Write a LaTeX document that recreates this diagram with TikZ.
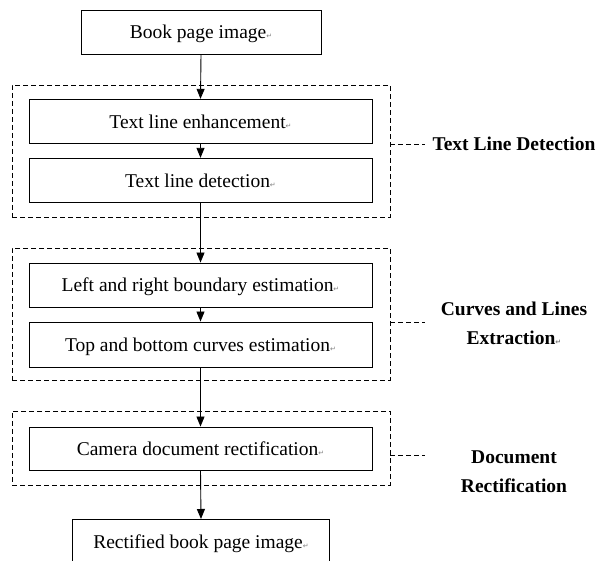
\documentclass[tikz,border=0pt]{standalone}
\usepackage{fontspec}
\setmainfont{Liberation Serif}
\newfontfamily\symfont{DejaVu Sans}
\usetikzlibrary{arrows.meta}
\newcommand{\pmark}{{\symfont\fontsize{7}{8}\selectfont\textcolor{gray}{↵}}}
\tikzset{
  stepbox/.style={draw, line width=0.9pt, rectangle, inner sep=0pt, minimum height=44pt,
    text height=14pt, text depth=0pt, font=\fontsize{19.5}{22}\selectfont},
  groupbox/.style={draw, dashed, dash pattern=on 5pt off 3pt, line width=0.8pt, rectangle, inner sep=0pt, minimum width=378pt},
  flow/.style={-{Triangle[length=10pt,width=8pt]}, line width=0.9pt},
  tie/.style={dashed, dash pattern=on 5pt off 3pt, line width=0.8pt},
  grouplabel/.style={font=\bfseries\fontsize{19.5}{29}\selectfont, align=center}
}
\begin{document}
\begin{tikzpicture}[x=1pt,y=-1pt]
\useasboundingbox (0,0) rectangle (603,561);
% group frames
\node[groupbox, minimum height=132pt] (g1) at (201,151) {};
\node[groupbox, minimum height=132pt] (g2) at (201,314) {};
\node[groupbox, minimum height=74pt] (g3) at (201,448) {};
% steps
\node[stepbox, minimum width=240pt] (book) at (201,32) {Book page image\pmark};
\node[stepbox, minimum width=343pt] (enh) at (200.5,121.3) {Text line enhancement\pmark};
\node[stepbox, minimum width=343pt] (det) at (200.5,180.3) {Text line detection\pmark};
\node[stepbox, minimum width=343pt] (lr) at (200.5,285) {Left and right boundary estimation\pmark};
\node[stepbox, minimum width=343pt, minimum height=45pt] (tb) at (200.5,344.5) {Top and bottom curves estimation\pmark};
\node[stepbox, minimum width=343pt, minimum height=43pt] (cam) at (200.5,448.5) {Camera document rectification\pmark};
\node[stepbox, minimum width=257pt, anchor=north] (rect) at (201,519) {Rectified book page image\pmark};
% flow arrows
\draw[flow] (book.south) -- (enh.north);
\draw[flow] (enh.south) -- (det.north);
\draw[flow] (det.south) -- (lr.north);
\draw[flow] (lr.south) -- (tb.north);
\draw[flow] (tb.south) -- (cam.north);
\draw[flow] (cam.south) -- (rect.north);
% labels
\node[grouplabel] (l1) at (514,144) {Text Line Detection};
\node[grouplabel] (l2) at (514,323) {Curves and Lines\\Extraction\pmark};
\node[grouplabel] (l3) at (514,472) {Document\\Rectification};
\coordinate (c1) at (425,144);
\coordinate (c2) at (425,322);
\coordinate (c3) at (425,455);
\draw[tie] (g1.east |- c1) -- (c1);
\draw[tie] (g2.east |- c2) -- (c2);
\draw[tie] (g3.east |- c3) -- (c3);
\end{tikzpicture}
\end{document}
